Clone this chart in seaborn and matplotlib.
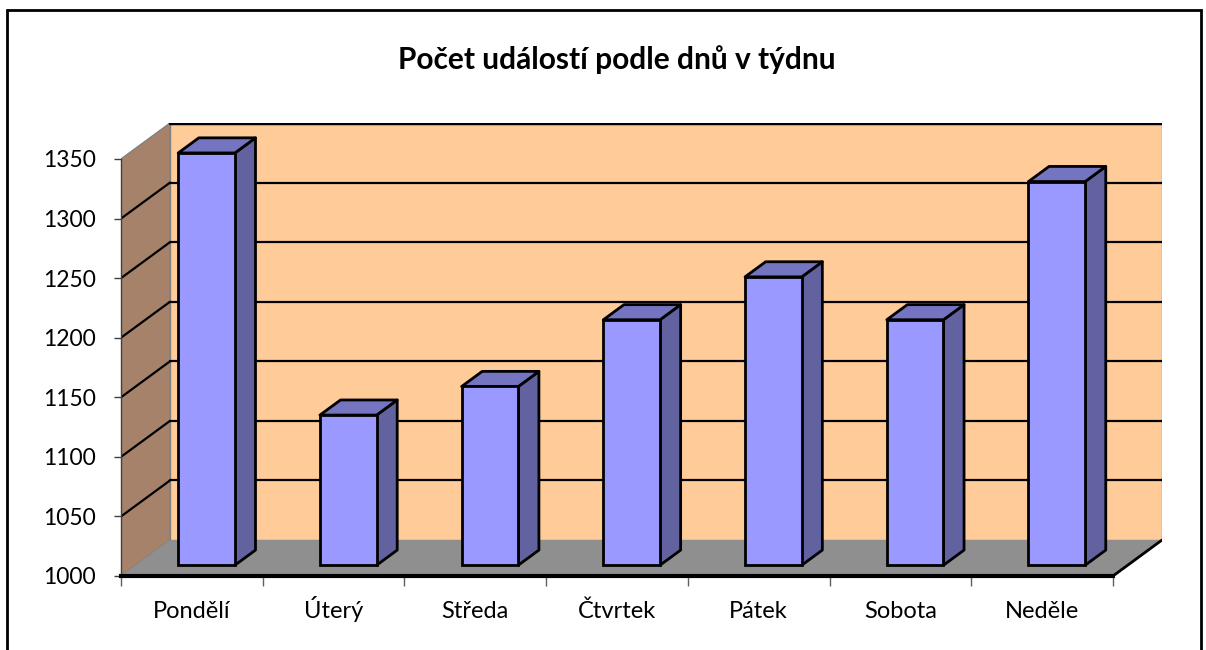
"""
Počet událostí podle dnů v týdnu - 3D sloupcový graf (styl Excel)
"""

import numpy as np
import pandas as pd
import matplotlib
matplotlib.use("Agg")
import matplotlib.pyplot as plt
from matplotlib.patches import Polygon, Rectangle
import seaborn as sns

# ============================================================================
# DATA
# ============================================================================

days = ['Pondělí', 'Úterý', 'Středa', 'Čtvrtek', 'Pátek', 'Sobota', 'Neděle']
counts = [1346, 1126, 1150, 1206, 1242, 1206, 1322]
y_ticks = [1000, 1050, 1100, 1150, 1200, 1250, 1300, 1350]
title = 'Počet událostí podle dnů v týdnu'

df = pd.DataFrame({'den': days, 'pocet': counts})

# ============================================================================
# STYL
# ============================================================================

sns.set_style("white")
plt.rcParams['font.family'] = ['Lato', 'DejaVu Sans']
plt.rcParams['text.color'] = 'black'

y_min, y_max = y_ticks[0], y_ticks[-1]
DX, DY = 0.346, 30.2          # hloubka 3D (v jednotkách os)
bar_w = 0.4
d_front, d_back = 0.30, 0.72  # poloha sloupců v hloubce

c_wall = '#FFCC99'
c_side = '#A6826A'
c_floor = '#8F8F8F'
c_bar = '#9999FF'
c_bar_top = '#7474C0'
c_bar_side = '#6262A0'

fig = plt.figure(figsize=(12.06, 6.5), dpi=100)
ax = fig.add_axes([121 / 1206, (650 - 576) / 650, (1162 - 121) / 1206, (576 - 123) / 650])

# okraj grafu
fig.patches.append(Rectangle((7 / 1206, -0.05), (1201 - 7) / 1206, 0.05 + (1 - 10 / 650),
                             transform=fig.transFigure, fill=False,
                             edgecolor='black', linewidth=2))

x_left, x_right = -0.5, len(days) - 0.5

# ---- stěny a podlaha ----
ax.add_patch(Rectangle((x_left + DX, y_min + DY), x_right - x_left, y_max - y_min,
                       facecolor=c_wall, edgecolor='#808080', linewidth=1, zorder=0))
ax.add_patch(Polygon([(x_left, y_min), (x_left + DX, y_min + DY),
                      (x_left + DX, y_max + DY), (x_left, y_max)],
                     closed=True, facecolor=c_side, edgecolor='#808080', linewidth=1, zorder=0))

# mřížka
for v in y_ticks[1:-1]:
    ax.plot([x_left + DX, x_right + DX], [v + DY, v + DY], color='black', lw=1.6, zorder=0.5)
    ax.plot([x_left, x_left + DX], [v, v + DY], color='black', lw=1.6, zorder=0.5)
ax.plot([x_left + DX, x_right + DX], [y_max + DY, y_max + DY], color='black', lw=2.5, zorder=0.6)

ax.add_patch(Polygon([(x_left, y_min), (x_right, y_min),
                      (x_right + DX, y_min + DY), (x_left + DX, y_min + DY)],
                     closed=True, facecolor=c_floor, edgecolor='none', zorder=1))
ax.plot([x_right, x_right + DX], [y_min, y_min + DY], color='black', lw=2, zorder=1.1)

# ---- sloupce ----
sns.barplot(data=df, x='den', y='pocet', width=bar_w, color=c_bar, saturation=1,
            edgecolor='black', linewidth=2, ax=ax, zorder=3)

bars = [p for p in list(ax.patches)
        if isinstance(p, Rectangle) and abs(p.get_width() - bar_w) < 1e-9]

dep = d_back - d_front
for p in bars:
    x0 = p.get_x() + d_front * DX
    base = y_min + d_front * DY
    top = p.get_height() + d_front * DY
    p.set_x(x0)
    p.set_y(base)
    p.set_height(top - base)
    p.set_zorder(3)
    x1 = x0 + bar_w
    ax.add_patch(Polygon([(x1, base), (x1 + dep * DX, base + dep * DY),
                          (x1 + dep * DX, top + dep * DY), (x1, top)],
                         closed=True, facecolor=c_bar_side, edgecolor='black',
                         linewidth=2, joinstyle='round', zorder=2))
    ax.add_patch(Polygon([(x0, top), (x0 + dep * DX, top + dep * DY),
                          (x1 + dep * DX, top + dep * DY), (x1, top)],
                         closed=True, facecolor=c_bar_top, edgecolor='black',
                         linewidth=2, joinstyle='round', zorder=2))

# ---- osy ----
ax.set_xlim(x_left, x_right + DX)
ax.set_ylim(y_min, y_max + DY)
ax.set_xlabel('')
ax.set_ylabel('')

for s in ['top', 'right']:
    ax.spines[s].set_visible(False)
ax.spines['left'].set_bounds(y_min, y_max)
ax.spines['left'].set_linewidth(1)
ax.spines['left'].set_color('#404040')
ax.spines['bottom'].set_bounds(x_left, x_right)
ax.spines['bottom'].set_linewidth(3)
ax.spines['bottom'].set_color('black')
ax.spines['bottom'].set_zorder(5)

ax.set_yticks(y_ticks)
ax.set_yticklabels([str(v) for v in y_ticks])
ax.tick_params(axis='y', length=5, width=1, color='#404040', pad=13, labelsize=16.5,
               labelcolor='black', left=True)

ax.set_xticks(np.arange(len(days) + 1) - 0.5)
ax.set_xticklabels([])
ax.set_xticks(np.arange(len(days)), minor=True)
ax.set_xticklabels(days, minor=True)
ax.tick_params(axis='x', which='major', length=7, width=1, color='#606060', bottom=True)
ax.tick_params(axis='x', which='minor', length=0, pad=30.5, labelsize=17,
               labelcolor='black')
for lbl in ax.get_xticklabels(minor=True):
    lbl.set_va('baseline')

fig.text(617 / 1206, 1 - 60 / 650, title, ha='center', va='center',
         fontsize=21.5, fontweight='bold', color='black')

fig.savefig('out.png', dpi=100)
